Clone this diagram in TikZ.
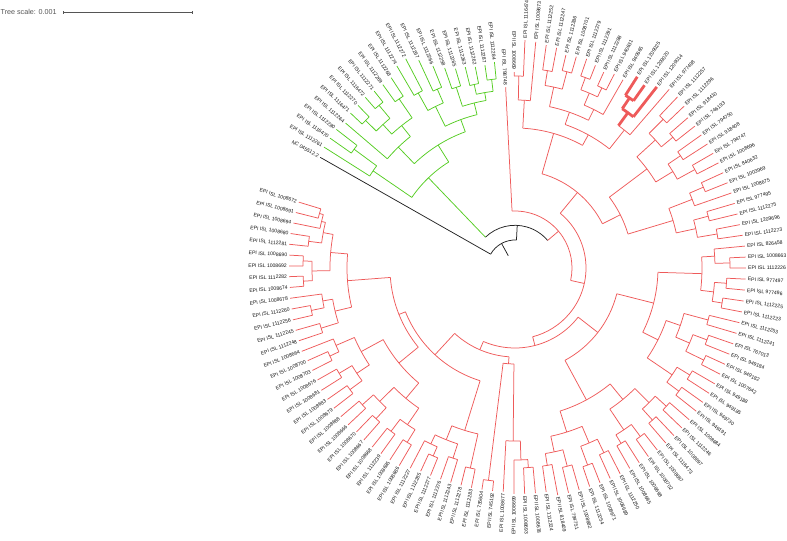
\documentclass[tikz,border=0pt]{standalone}
\usepackage{fontspec}
\setmainfont{Liberation Sans}
\definecolor{cladered}{HTML}{EE5A5A}
\definecolor{cladegreen}{HTML}{55CC22}
\definecolor{treeblack}{HTML}{222222}
\definecolor{labelgray}{HTML}{151515}
\definecolor{scalegray}{HTML}{555555}
% leaf: index, tip radius, branch style, label
\newcommand\taxon[4]{%
  \pgfmathsetmacro\txa{150.4-(#1-1)*2.735}%
  \pgfmathsetmacro\txl{#2+2}%
  \pgfmathtruncatemacro\txs{cos(\txa)>0 ? 1 : 0}%
  \expandafter\xdef\csname ta@l#1\endcsname{\txa}%
  \expandafter\xdef\csname ts@l#1\endcsname{#3}%
  \coordinate (l#1) at (\txa:#2bp);
  \ifnum\txs=1
    \node[leaflabel,anchor=west,rotate=\txa] (n#1) at (\txa:\txl bp) {#4};
  \else
    \pgfmathsetmacro\txb{\txa+180}%
    \node[leaflabel,anchor=east,rotate=\txb] (n#1) at (\txa:\txl bp) {#4};
  \fi}
% inner node: name, radius, child a, child b, arc style
\newcommand\clade[5]{%
  \edef\cA{\csname ta@#3\endcsname}%
  \edef\cB{\csname ta@#4\endcsname}%
  \edef\sA{\csname ts@#3\endcsname}%
  \edef\sB{\csname ts@#4\endcsname}%
  \pgfmathsetmacro\cM{(\cA+\cB)/2}%
  \expandafter\xdef\csname ta@#1\endcsname{\cM}%
  \expandafter\xdef\csname ts@#1\endcsname{#5}%
  \coordinate (#1) at (\cM:#2bp);
  \draw[#5] (\cA:#2bp) arc[start angle=\cA, end angle=\cB, radius=#2bp];
  \edef\spokes{\noexpand\draw[\sA] (\cA:#2bp) -- (#3);
    \noexpand\draw[\sB] (\cB:#2bp) -- (#4);}%
  \spokes}
\tikzset{
  rb/.style={draw=cladered,line width=0.75bp},
  gb/.style={draw=cladegreen,line width=0.75bp},
  kb/.style={draw=treeblack,line width=0.75bp},
  tb/.style={draw=cladered,line width=2.8bp},
  leaflabel/.style={font=\fontsize{5.1}{6}\selectfont,text=labelgray,inner sep=0pt}}
\begin{document}
\begin{tikzpicture}
  \useasboundingbox (-515bp,-273bp) rectangle (272bp,268bp);
  % scale bar
  \node[anchor=west,font=\fontsize{7.2}{8}\selectfont,text=scalegray,inner sep=0pt]
    (scaletext) at (-514.5bp,256.5bp) {Tree scale: 0.001};
  \coordinate (sbl) at (-451.7bp,255.7bp);
  \coordinate (sbr) at (-322.3bp,255.7bp);
  \draw[scalegray,line width=0.5bp] (sbl) -- (sbr);
  \draw[scalegray,line width=0.5bp] ([yshift=-1.5bp]sbl) -- ([yshift=1.5bp]sbl)
    ([yshift=-1.5bp]sbr) -- ([yshift=1.5bp]sbr);
  % leaves
  \taxon{1}{224}{kb}{NC 045512.2}
  \taxon{2}{226}{gb}{EPI ISL 1112261}
  \taxon{3}{226}{gb}{EPI ISL 1116470}
  \taxon{4}{226}{gb}{EPI ISL 1112280}
  \taxon{5}{223}{gb}{EPI ISL 1112264}
  \taxon{6}{226}{gb}{EPI ISL 1116471}
  \taxon{7}{226}{gb}{EPI ISL 1112270}
  \taxon{8}{227}{gb}{EPI ISL 1116472}
  \taxon{9}{226}{gb}{EPI ISL 1112271}
  \taxon{10}{226}{gb}{EPI ISL 1112269}
  \taxon{11}{227}{gb}{EPI ISL 1112268}
  \taxon{12}{234}{gb}{EPI ISL 1112274}
  \taxon{13}{236}{gb}{EPI ISL 1112272}
  \taxon{14}{229}{gb}{EPI ISL 1112267}
  \taxon{15}{218}{gb}{EPI ISL 1112266}
  \taxon{16}{212}{gb}{EPI ISL 1112258}
  \taxon{17}{208}{gb}{EPI ISL 1112265}
  \taxon{18}{207}{gb}{EPI ISL 1112263}
  \taxon{19}{205}{gb}{EPI ISL 1112262}
  \taxon{20}{205}{gb}{EPI ISL 1112287}
  \taxon{21}{207}{gb}{EPI ISL 1112284}
  \taxon{22}{181}{rb}{EPI ISL 798748}
  \taxon{23}{196}{rb}{EPI ISL 1008669}
  \taxon{24}{228}{rb}{EPI ISL 1116474}
  \taxon{25}{227}{rb}{EPI ISL 1008673}
  \taxon{26}{225}{rb}{EPI ISL 1112252}
  \taxon{27}{224}{rb}{EPI ISL 1112247}
  \taxon{28}{219}{rb}{EPI ISL 1112286}
  \taxon{29}{220}{rb}{EPI ISL 1008701}
  \taxon{30}{221}{rb}{EPI ISL 1112279}
  \taxon{31}{218}{rb}{EPI ISL 1112291}
  \taxon{32}{215}{rb}{EPI ISL 1112288}
  \taxon{33}{218}{rb}{EPI ISL 940631}
  \taxon{34}{217}{rb}{EPI ISL 940665}
  \taxon{35}{227}{tb}{EPI ISL 1209025}
  \taxon{36}{224}{tb}{EPI ISL 1209020}
  \taxon{37}{230}{tb}{EPI ISL 1209014}
  \taxon{38}{236}{rb}{EPI ISL 977498}
  \taxon{39}{236}{rb}{EPI ISL 1112257}
  \taxon{40}{234}{rb}{EPI ISL 1112296}
  \taxon{41}{229}{rb}{EPI ISL 918410}
  \taxon{42}{229}{rb}{EPI ISL 746193}
  \taxon{43}{229}{rb}{EPI ISL 794750}
  \taxon{44}{229}{rb}{EPI ISL 918408}
  \taxon{45}{229}{rb}{EPI ISL 794747}
  \taxon{46}{229}{rb}{EPI ISL 1008696}
  \taxon{47}{229}{rb}{EPI ISL 840632}
  \taxon{48}{229}{rb}{EPI ISL 1003969}
  \taxon{49}{229}{rb}{EPI ISL 1008675}
  \taxon{50}{229}{rb}{EPI ISL 977495}
  \taxon{51}{229}{rb}{EPI ISL 1112275}
  \taxon{52}{229}{rb}{EPI ISL 1209696}
  \taxon{53}{230}{rb}{EPI ISL 1112273}
  \taxon{54}{231}{rb}{EPI ISL 826458}
  \taxon{55}{231}{rb}{EPI ISL 1008663}
  \taxon{56}{231}{rb}{EPI ISL 1112226}
  \taxon{57}{231}{rb}{EPI ISL 977497}
  \taxon{58}{231}{rb}{EPI ISL 977496}
  \taxon{59}{231}{rb}{EPI ISL 1112225}
  \taxon{60}{231}{rb}{EPI ISL 1112223}
  \taxon{61}{231}{rb}{EPI ISL 1112253}
  \taxon{62}{231}{rb}{EPI ISL 1112241}
  \taxon{63}{231}{rb}{EPI ISL 767013}
  \taxon{64}{231}{rb}{EPI ISL 949184}
  \taxon{65}{231}{rb}{EPI ISL 949182}
  \taxon{66}{231}{rb}{EPI ISL 1007642}
  \taxon{67}{231}{rb}{EPI ISL 949188}
  \taxon{68}{231}{rb}{EPI ISL 949185}
  \taxon{69}{231}{rb}{EPI ISL 949730}
  \taxon{70}{231}{rb}{EPI ISL 949191}
  \taxon{71}{231}{rb}{EPI ISL 1008684}
  \taxon{72}{231}{rb}{EPI ISL 1112246}
  \taxon{73}{231}{rb}{EPI ISL 1008697}
  \taxon{74}{231}{rb}{EPI ISL 1116473}
  \taxon{75}{231}{rb}{EPI ISL 1008687}
  \taxon{76}{231}{rb}{EPI ISL 1008702}
  \taxon{77}{231}{rb}{EPI ISL 1008698}
  \taxon{78}{231}{rb}{EPI ISL 1008695}
  \taxon{79}{231}{rb}{EPI ISL 1112250}
  \taxon{80}{231}{rb}{EPI ISL 1008689}
  \taxon{81}{231}{rb}{EPI ISL 1008671}
  \taxon{82}{231}{rb}{EPI ISL 1112254}
  \taxon{83}{231}{rb}{EPI ISL 1008682}
  \taxon{84}{231}{rb}{EPI ISL 794751}
  \taxon{85}{231}{rb}{EPI ISL 818409}
  \taxon{86}{226}{rb}{EPI ISL 1112224}
  \taxon{87}{226}{rb}{EPI ISL 1008678}
  \taxon{88}{226}{rb}{EPI ISL 1008693}
  \taxon{89}{226}{rb}{EPI ISL 1008699}
  \taxon{90}{224}{rb}{EPI ISL 1008677}
  \taxon{91}{224}{rb}{EPI ISL 745192}
  \taxon{92}{224}{rb}{EPI ISL 735604}
  \taxon{93}{224}{rb}{EPI ISL 1112283}
  \taxon{94}{224}{rb}{EPI ISL 1112278}
  \taxon{95}{224}{rb}{EPI ISL 1112243}
  \taxon{96}{224}{rb}{EPI ISL 1112276}
  \taxon{97}{224}{rb}{EPI ISL 1112277}
  \taxon{98}{224}{rb}{EPI ISL 1112285}
  \taxon{99}{226}{rb}{EPI ISL 1112227}
  \taxon{100}{229}{rb}{EPI ISL 1008686}
  \taxon{101}{229}{rb}{EPI ISL 1008685}
  \taxon{102}{229}{rb}{EPI ISL 1112239}
  \taxon{103}{229}{rb}{EPI ISL 1008668}
  \taxon{104}{229}{rb}{EPI ISL 1008667}
  \taxon{105}{228}{rb}{EPI ISL 1008670}
  \taxon{106}{229}{rb}{EPI ISL 1008666}
  \taxon{107}{229}{rb}{EPI ISL 1008688}
  \taxon{108}{229}{rb}{EPI ISL 1008679}
  \taxon{109}{229}{rb}{EPI ISL 1008683}
  \taxon{110}{229}{rb}{EPI ISL 1008681}
  \taxon{111}{227}{rb}{EPI ISL 1008676}
  \taxon{112}{227}{rb}{EPI ISL 1008703}
  \taxon{113}{227}{rb}{EPI ISL 1008700}
  \taxon{114}{229}{rb}{EPI ISL 1008664}
  \taxon{115}{228}{rb}{EPI ISL 1112248}
  \taxon{116}{228}{rb}{EPI ISL 1112245}
  \taxon{117}{228}{rb}{EPI ISL 1112256}
  \taxon{118}{227}{rb}{EPI ISL 1112260}
  \taxon{119}{227}{rb}{EPI ISL 1008678}
  \taxon{120}{226}{rb}{EPI ISL 1008674}
  \taxon{121}{226}{rb}{EPI ISL 1112282}
  \taxon{122}{226}{rb}{EPI ISL 1008692}
  \taxon{123}{226}{rb}{EPI ISL 1008690}
  \taxon{124}{227}{rb}{EPI ISL 1112281}
  \taxon{125}{227}{rb}{EPI ISL 1008680}
  \taxon{126}{226}{rb}{EPI ISL 1008694}
  \taxon{127}{226}{rb}{EPI ISL 1008691}
  \taxon{128}{226}{rb}{EPI ISL 1008672}
  % green clade
  \clade{a1}{200}{l3}{l4}{gb}
  \clade{A}{172}{l2}{a1}{gb}
  \clade{g4}{210}{l6}{l7}{gb}
  \clade{g5}{212}{l8}{l9}{gb}
  \clade{g6}{195}{g4}{g5}{gb}
  \clade{g7}{205}{l10}{l11}{gb}
  \clade{g8}{182}{g6}{g7}{gb}
  \clade{g9}{168}{l5}{g8}{gb}
  \clade{g10}{200}{l12}{l13}{gb}
  \clade{g11}{195}{l14}{l15}{gb}
  \clade{g12}{180}{g10}{g11}{gb}
  \clade{g13}{190}{l16}{l17}{gb}
  \clade{g14}{188}{l18}{l19}{gb}
  \clade{g15}{190}{l20}{l21}{gb}
  \clade{g16}{178}{g14}{g15}{gb}
  \clade{g17}{170}{g13}{g16}{gb}
  \clade{g18}{158}{g12}{g17}{gb}
  \clade{Bg}{145}{g9}{g18}{gb}
  \clade{G}{125}{A}{Bg}{gb}
  % top red
  \clade{t1}{192}{l23}{l24}{rb}
  \clade{t2}{168}{t1}{l25}{rb}
  \clade{t3}{200}{l26}{l27}{rb}
  \clade{t4}{203}{l28}{l29}{rb}
  \clade{t5}{185}{t3}{t4}{rb}
  \clade{t6}{203}{l30}{l31}{rb}
  \clade{t7}{200}{l32}{l33}{rb}
  \clade{t8}{190}{t6}{t7}{rb}
  \clade{t9}{177}{t8}{l34}{rb}
  \clade{t10}{165}{t5}{t9}{rb}
  \clade{k1}{205}{l35}{l36}{tb}
  \clade{k2}{192}{k1}{l37}{tb}
  \clade{t11}{176}{k2}{l38}{rb}
  \clade{t12}{152}{t10}{t11}{rb}
  \clade{t13}{140}{t2}{t12}{rb}
  \clade{u1}{210}{l39}{l40}{rb}
  \clade{u2}{205}{l41}{l42}{rb}
  \clade{u3}{190}{u1}{u2}{rb}
  \clade{u4}{200}{l43}{l44}{rb}
  \clade{u5}{205}{l45}{l46}{rb}
  \clade{u6}{185}{u4}{u5}{rb}
  \clade{u7}{165}{u3}{u6}{rb}
  \clade{u8}{205}{l47}{l48}{rb}
  \clade{u9}{190}{u8}{l49}{rb}
  \clade{u10}{200}{l50}{l51}{rb}
  \clade{u11}{205}{l52}{l53}{rb}
  \clade{u12}{185}{u10}{u11}{rb}
  \clade{u13}{165}{u9}{u12}{rb}
  \clade{u14}{118}{u7}{u13}{rb}
  \clade{T}{98}{t13}{u14}{rb}
  % right red
  \clade{v1}{215}{l55}{l56}{rb}
  \clade{v2}{200}{l54}{v1}{rb}
  \clade{v3}{212}{l57}{l58}{rb}
  \clade{v4}{210}{l59}{l60}{rb}
  \clade{v5}{200}{v3}{v4}{rb}
  \clade{v6}{187}{v2}{v5}{rb}
  \clade{v7}{200}{l61}{l62}{rb}
  \clade{v8}{205}{l63}{l64}{rb}
  \clade{v9}{210}{l65}{l66}{rb}
  \clade{v10}{190}{v8}{v9}{rb}
  \clade{v11}{175}{v7}{v10}{rb}
  \clade{v12}{205}{l67}{l68}{rb}
  \clade{v13}{205}{l69}{l70}{rb}
  \clade{v14}{190}{v12}{v13}{rb}
  \clade{v15}{160}{v11}{v14}{rb}
  \clade{v16}{143}{v6}{v15}{rb}
  \clade{w1}{205}{l71}{l72}{rb}
  \clade{w2}{205}{l73}{l74}{rb}
  \clade{w3}{190}{w1}{w2}{rb}
  \clade{w4}{210}{l75}{l76}{rb}
  \clade{w5}{205}{l77}{l78}{rb}
  \clade{w6}{195}{w4}{w5}{rb}
  \clade{w7}{170}{w3}{w6}{rb}
  \clade{w8}{205}{l79}{l80}{rb}
  \clade{w9}{210}{l81}{l82}{rb}
  \clade{w10}{190}{w8}{w9}{rb}
  \clade{w11}{205}{l83}{l84}{rb}
  \clade{w12}{200}{l85}{l86}{rb}
  \clade{w13}{188}{w11}{w12}{rb}
  \clade{w14}{172}{w10}{w13}{rb}
  \clade{w15}{150}{w7}{w14}{rb}
  \clade{W}{105}{v16}{w15}{rb}
  % bottom and left red
  \clade{b1}{200}{l87}{l88}{rb}
  \clade{b2}{192}{b1}{l89}{rb}
  \clade{b3}{173}{b2}{l90}{rb}
  \clade{b6}{214}{l91}{l92}{rb}
  \clade{b7}{205}{l93}{l94}{rb}
  \clade{b8}{200}{l95}{l96}{rb}
  \clade{b9}{205}{l97}{l98}{rb}
  \clade{b10}{195}{b9}{l99}{rb}
  \clade{b11}{185}{b8}{b10}{rb}
  \clade{b12}{170}{b7}{b11}{rb}
  \clade{c1}{205}{l100}{l101}{rb}
  \clade{c2}{205}{l102}{l103}{rb}
  \clade{c3}{190}{c1}{c2}{rb}
  \clade{c4}{205}{l104}{l105}{rb}
  \clade{c5}{205}{l106}{l107}{rb}
  \clade{c6}{190}{c4}{c5}{rb}
  \clade{c7}{170}{c3}{c6}{rb}
  \clade{c8}{205}{l108}{l109}{rb}
  \clade{c9}{205}{l110}{l111}{rb}
  \clade{c10}{190}{c8}{c9}{rb}
  \clade{c11}{205}{l112}{l113}{rb}
  \clade{c12}{195}{c11}{l114}{rb}
  \clade{c13}{175}{c10}{c12}{rb}
  \clade{c14}{150}{c7}{c13}{rb}
  \clade{d1}{203}{l115}{l116}{rb}
  \clade{d2}{208}{l117}{l118}{rb}
  \clade{d3}{195}{d2}{l119}{rb}
  \clade{d4}{185}{d1}{d3}{rb}
  \clade{d5}{212}{l120}{l121}{rb}
  \clade{d6}{212}{l122}{l123}{rb}
  \clade{d7}{203}{d5}{d6}{rb}
  \clade{d8}{208}{l124}{l125}{rb}
  \clade{d9}{203}{l127}{l128}{rb}
  \clade{d10}{199}{l126}{d9}{rb}
  \clade{d11}{195}{d8}{d10}{rb}
  \clade{d12}{185}{d7}{d11}{rb}
  \clade{d13}{168}{d4}{d12}{rb}
  \clade{D}{125}{c14}{d13}{rb}
  \clade{b14}{118}{b12}{D}{rb}
  \clade{b13}{96}{b3}{b6}{rb}
  \clade{B}{89}{b13}{b14}{rb}
  % backbone
  \clade{Q}{80}{W}{B}{rb}
  \clade{R1}{71}{T}{Q}{rb}
  \clade{R}{57}{l22}{R1}{rb}
  \clade{X}{42.7}{G}{R}{kb}
  \clade{root}{28}{l1}{X}{kb}
  \draw[kb] (\csname ta@root\endcsname:14bp) -- (root);
\end{tikzpicture}
\end{document}
